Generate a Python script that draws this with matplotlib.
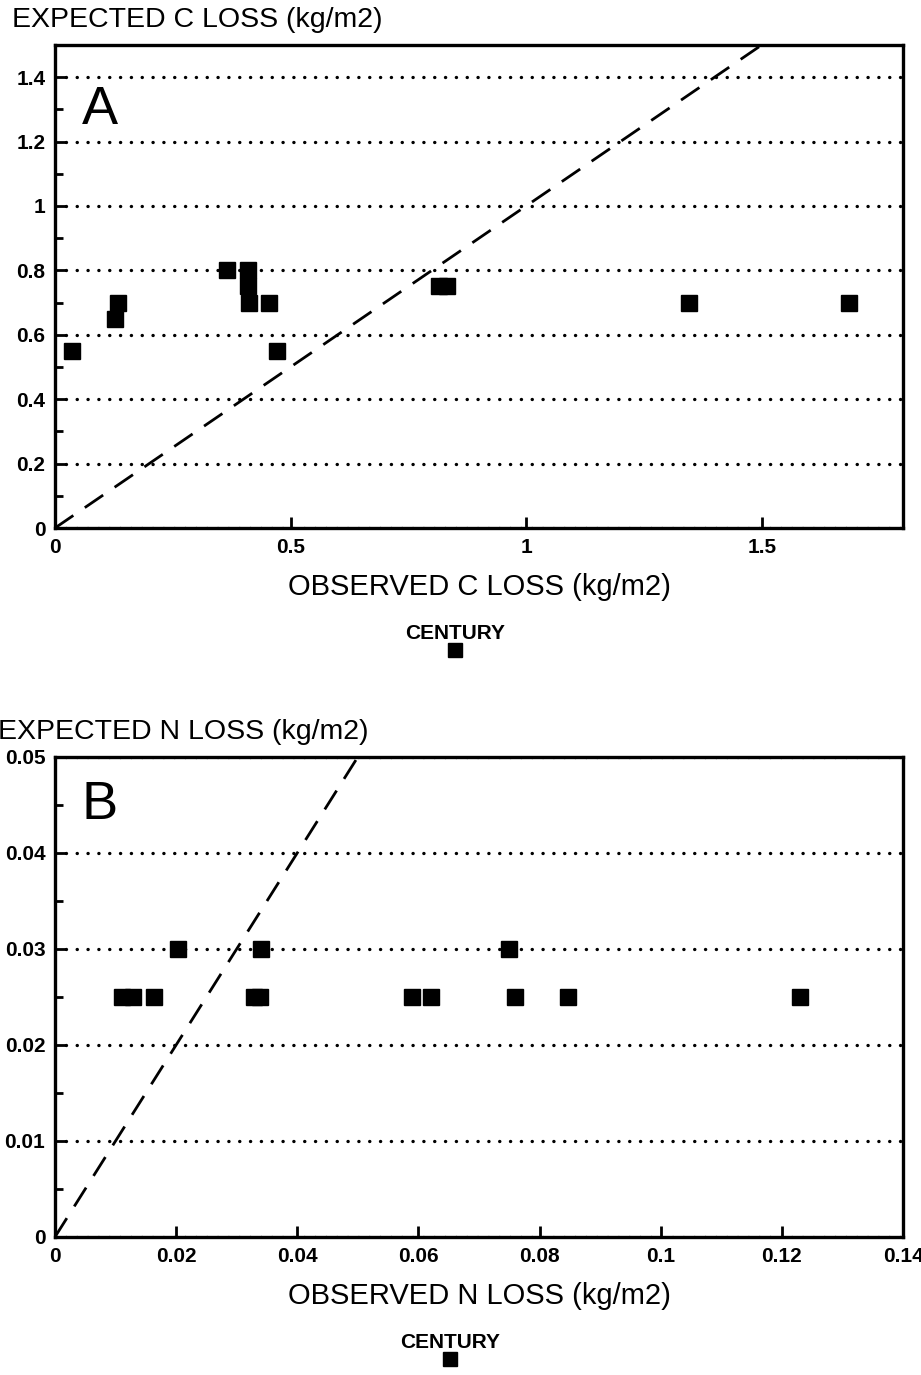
import matplotlib.pyplot as plt
from matplotlib.lines import Line2D

plt.rcParams['font.family'] = ['Liberation Sans', 'DejaVu Sans']

# panel A: carbon
obs_c = [0.036, 0.128, 0.133, 0.366, 0.409, 0.409, 0.412, 0.455, 0.471,
         0.815, 0.832, 1.345, 1.685]
exp_c = [0.55, 0.65, 0.70, 0.80, 0.80, 0.75, 0.70, 0.70, 0.55,
         0.75, 0.75, 0.70, 0.70]

# panel B: nitrogen
obs_n = [0.0203, 0.034, 0.075,
         0.011, 0.0128, 0.0163, 0.0328, 0.0338, 0.059, 0.062, 0.076, 0.0847, 0.123]
exp_n = [0.030, 0.030, 0.030,
         0.025, 0.025, 0.025, 0.025, 0.025, 0.025, 0.025, 0.025, 0.025, 0.025]

fig = plt.figure(figsize=(9.21, 13.75), dpi=100)
axA = fig.add_axes([0.0597, 0.616, 0.9208, 0.3513])
axB = fig.add_axes([0.0597, 0.1004, 0.9208, 0.3491])

panels = [
    (axA, obs_c, exp_c, 1.8, 1.5, [0, 0.5, 1, 1.5], ['0', '0.5', '1', '1.5'],
     [0, 0.2, 0.4, 0.6, 0.8, 1.0, 1.2, 1.4], ['0', '0.2', '0.4', '0.6', '0.8', '1', '1.2', '1.4'],
     0.1, 'A', 0.865, 'EXPECTED C LOSS (kg/m2)', 'OBSERVED C LOSS (kg/m2)', 0.472, 12),
    (axB, obs_n, exp_n, 0.14, 0.05, [0, 0.02, 0.04, 0.06, 0.08, 0.1, 0.12, 0.14],
     ['0', '0.02', '0.04', '0.06', '0.08', '0.1', '0.12', '0.14'],
     [0, 0.01, 0.02, 0.03, 0.04, 0.05], ['0', '0.01', '0.02', '0.03', '0.04', '0.05'],
     0.005, 'B', 0.9, 'EXPECTED N LOSS (kg/m2)', 'OBSERVED N LOSS (kg/m2)', 0.466, -2),
]

for (ax, xs, ys, xmax, ymax, xt, xtl, yt, ytl, yminor, letter, lety,
     ylab, xlab, legx, ylab_px) in panels:
    ax.set_xlim(0, xmax)
    ax.set_ylim(0, ymax)
    # 1:1 line
    ax.plot([0, ymax], [0, ymax], color='black', lw=2.0, dashes=(8, 5))
    ax.plot(xs, ys, linestyle='none', marker='s', color='black', markersize=11.5)

    for s in ax.spines.values():
        s.set_linewidth(2.4)
    ax.set_xticks(xt)
    ax.set_xticklabels(xtl)
    ax.set_yticks(yt)
    ax.set_yticklabels(ytl)
    ax.set_yticks([v * yminor for v in range(1, int(round(ymax / yminor)), 2)], minor=True)
    ax.tick_params(direction='in', length=8, width=2, pad=7, labelsize=15)
    ax.tick_params(axis='y', which='minor', direction='in', length=6, width=2)
    for lbl in ax.get_xticklabels() + ax.get_yticklabels():
        lbl.set_fontweight('bold')

    ax.grid(axis='y', which='major', color='black', linewidth=2.4,
            linestyle=(0, (0.05, 3.2)), dash_capstyle='round')
    ax.set_axisbelow(True)

    ax.text(0.053, lety, letter, transform=ax.transAxes, fontsize=39,
            ha='center', va='center')
    ax.set_xlabel(xlab, fontsize=21, labelpad=12)

    pos = ax.get_position()
    fig.text(ylab_px / 921, pos.y1 + 25 / 1375, ylab, fontsize=20.5,
             ha='left', va='center')

    h = Line2D([], [], linestyle='none', marker='s', color='black', markersize=10.5)
    leg = ax.legend([h], [''], title='CENTURY', loc='upper center',
                    bbox_to_anchor=(legx, -0.185), frameon=False,
                    handlelength=1, handletextpad=0, borderpad=0,
                    labelspacing=0.05,
                    title_fontproperties={'size': 15, 'weight': 'bold'})

fig.savefig('out.png', dpi=100)
